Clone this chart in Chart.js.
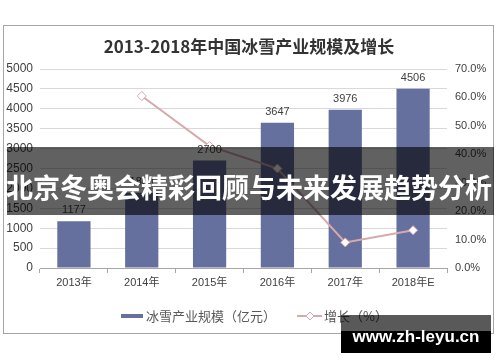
<!DOCTYPE html>
<html lang="zh-CN">
<head>
<meta charset="UTF-8">
<title>2013-2018年中国冰雪产业规模及增长</title>
<script src="https://cdn.jsdelivr.net/npm/chart.js"></script>
<style>
  html, body { margin: 0; padding: 0; background: #fff; }
  #box { width: 500px; height: 362px; }
</style>
</head>
<body>
<div id="box"><canvas id="grafico" width="500" height="362"></canvas></div>
<script>
// dados
const anos = ["2013年", "2014年", "2015年", "2016年", "2017年", "2018年E"];
const escala = [1177, 1890, 2700, 3647, 3976, 4506];        // 亿元
const crescimento = [null, 0.605, 0.429, 0.350, 0.090, 0.133]; // %
const tituloTexto = "2013-2018年中国冰雪产业规模及增长";
const legendaBarra = "冰雪产业规模（亿元）";
const legendaLinha = "增长（%）";
const faixaTexto = "北京冬奥会精彩回顾与未来发展趋势分析";
const marcaTexto = "www.zh-leyu.cn";

const corBarra = "#66709e";
const corLinha = "#d6a9aa";
const cjk = '"Noto Sans CJK SC", "Liberation Sans", sans-serif';
const latin = '"Liberation Sans", "Noto Sans CJK SC", sans-serif';

// desenha moldura, título, rótulos, legenda e sobreposições
const extras = {
  id: 'extras',
  beforeDraw(chart) {
    const c = chart.ctx;
    c.save();
    c.strokeStyle = '#a6a6a6';
    c.lineWidth = 1;
    c.strokeRect(3.5, 25.5, 490, 308);
    c.fillStyle = '#333';
    c.font = 'bold 17px ' + cjk;
    c.textAlign = 'center';
    c.textBaseline = 'middle';
    c.fillText(tituloTexto, 249, 47);
    c.restore();
  },
  afterDraw(chart) {
    const c = chart.ctx;
    c.save();
    // valores em cima das barras
    const meta = chart.getDatasetMeta(1);
    c.fillStyle = '#404040';
    c.font = '11px ' + latin;
    c.textAlign = 'center';
    c.textBaseline = 'middle';
    meta.data.forEach((bar, i) => {
      c.fillText(String(escala[i]), bar.x, bar.y - 11);
    });

    // legenda
    c.fillStyle = corBarra;
    c.fillRect(121, 314, 22, 4);
    c.fillStyle = '#595959';
    c.font = '13px ' + cjk;
    c.textAlign = 'left';
    c.fillText(legendaBarra, 146, 316);
    c.strokeStyle = corLinha;
    c.lineWidth = 2;
    c.beginPath();
    c.moveTo(297, 316); c.lineTo(322, 316);
    c.stroke();
    c.fillStyle = '#fff';
    c.lineWidth = 1;
    c.beginPath();
    c.moveTo(310, 312); c.lineTo(314, 316); c.lineTo(310, 320); c.lineTo(306, 316);
    c.closePath();
    c.fill(); c.stroke();
    c.fillStyle = '#595959';
    c.fillText(legendaLinha, 324, 316);

    // faixa escura com o texto
    c.fillStyle = 'rgba(0,0,0,0.62)';
    c.fillRect(7, 147, 487, 68);
    c.fillStyle = '#fff';
    c.font = 'bold 27px ' + cjk;
    c.textAlign = 'center';
    c.fillText(faixaTexto, 249, 188);

    // marca d'água
    c.fillStyle = 'rgba(0,0,0,0.65)';
    c.fillRect(341, 315, 150, 16);
    c.fillStyle = '#000';
    c.fillRect(341, 331, 150, 22);
    c.fillStyle = '#fff';
    c.font = 'bold 17px ' + latin;
    c.fillText(marcaTexto, 416, 337);
    c.restore();
  }
};

const ctx = document.getElementById('grafico');
new Chart(ctx, {
  data: {
    labels: anos,
    datasets: [
      {
        type: 'line',
        label: legendaLinha,
        data: crescimento,
        yAxisID: 'y1',
        borderColor: corLinha,
        borderWidth: 2,
        pointStyle: 'rectRot',
        pointRadius: 4.5,
        pointBackgroundColor: '#fff',
        pointBorderColor: corLinha,
        pointBorderWidth: 1,
        tension: 0,
        order: 0
      },
      {
        type: 'bar',
        label: legendaBarra,
        data: escala,
        yAxisID: 'y',
        backgroundColor: corBarra,
        categoryPercentage: 1,
        barPercentage: 0.49,
        order: 1
      }
    ]
  },
  options: {
    responsive: false,
    animation: false,
    devicePixelRatio: 1,
    layout: { padding: { top: 69, left: 5, right: 0, bottom: 0 } },
    plugins: { legend: { display: false }, tooltip: { enabled: false } },
    scales: {
      x: {
        offset: true,
        grid: { display: true, drawOnChartArea: false, offset: true, color: '#a6a6a6', tickLength: 5 },
        border: { display: true, color: '#a6a6a6' },
        ticks: { color: '#404040', font: { size: 11, family: latin }, padding: 3, maxRotation: 0 },
        afterFit(s) { s.height = 94; }
      },
      y: {
        position: 'left',
        min: 0, max: 5000,
        ticks: {
          stepSize: 500, color: '#404040', font: { size: 12, family: latin }, padding: 7,
          callback: v => String(v)
        },
        grid: { color: '#d9d9d9', drawTicks: false },
        border: { display: false },
        afterFit(s) { s.width = 35; }
      },
      y1: {
        position: 'right',
        min: 0, max: 0.7,
        ticks: {
          stepSize: 0.1, color: '#404040', font: { size: 11, family: latin }, padding: 8,
          callback: v => (v * 100).toFixed(1) + '%'
        },
        grid: { display: false, drawTicks: false },
        border: { display: false },
        afterFit(s) { s.width = 53; }
      }
    }
  },
  plugins: [extras]
});
</script>
</body>
</html>
